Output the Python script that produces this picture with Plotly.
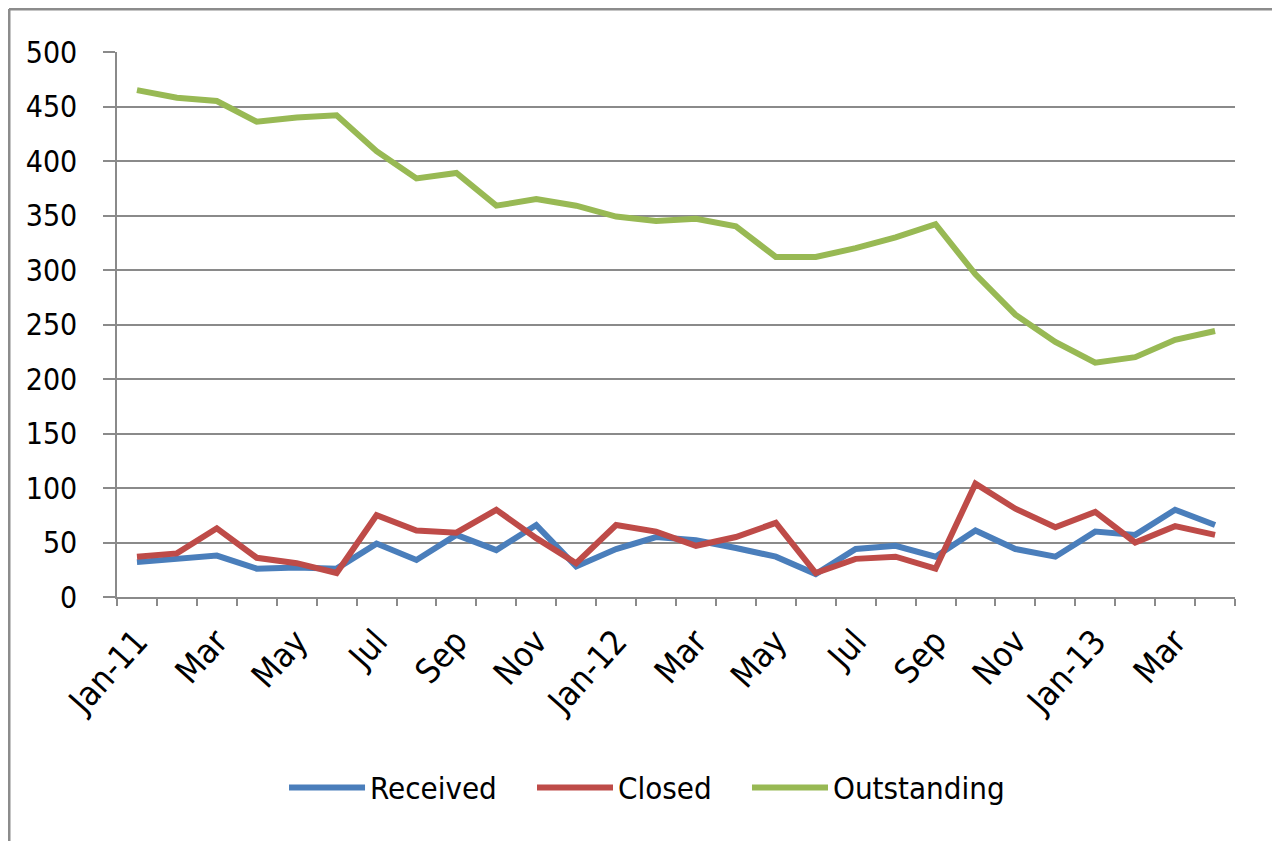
import plotly.graph_objects as go

months = ["Jan-11", "Feb-11", "Mar-11", "Apr-11", "May-11", "Jun-11", "Jul-11", "Aug-11",
          "Sep-11", "Oct-11", "Nov-11", "Dec-11", "Jan-12", "Feb-12", "Mar-12", "Apr-12",
          "May-12", "Jun-12", "Jul-12", "Aug-12", "Sep-12", "Oct-12", "Nov-12", "Dec-12",
          "Jan-13", "Feb-13", "Mar-13", "Apr-13"]
tick_text = ["Jan-11", "", "Mar", "", "May", "", "Jul", "", "Sep", "", "Nov", "",
             "Jan-12", "", "Mar", "", "May", "", "Jul", "", "Sep", "", "Nov", "",
             "Jan-13", "", "Mar", ""]

received = [32, 35, 38, 26, 27, 26, 49, 34, 57, 43, 66, 28, 44, 55, 52, 45,
            37, 21, 44, 47, 37, 61, 44, 37, 60, 57, 80, 66]
closed = [37, 40, 63, 36, 31, 22, 75, 61, 59, 80, 54, 31, 66, 60, 47, 55,
          68, 22, 35, 37, 26, 104, 81, 64, 78, 50, 65, 57]
outstanding = [465, 458, 455, 436, 440, 442, 409, 384, 389, 359, 365, 359, 349, 345, 347, 340,
               312, 312, 320, 330, 342, 296, 259, 234, 215, 220, 236, 244]

y_ticks = list(range(0, 501, 50))

FONT = "DejaVu Sans Condensed, Liberation Sans Narrow, sans-serif"
GRID = "#8a8a8a"

fig = go.Figure()
series = [("Received", received, "#4a7ebb", "legend"),
          ("Closed", closed, "#be4b48", "legend2"),
          ("Outstanding", outstanding, "#98b954", "legend3")]
for name, vals, color, lg in series:
    fig.add_trace(go.Scatter(x=months, y=vals, mode="lines", name=name, legend=lg,
                             line=dict(color=color, width=6)))

legend_common = dict(orientation="h", xanchor="left", y=-0.35, yanchor="middle",
                     font=dict(size=31), itemwidth=76, bgcolor="rgba(0,0,0,0)")

fig.update_layout(
    width=1272, height=833,
    margin=dict(l=109, r=45, t=44, b=244),
    paper_bgcolor="white", plot_bgcolor="white",
    font=dict(family=FONT, size=30, color="#000000"),
    showlegend=True,
    legend=dict(x=0.1494, **legend_common),
    legend2=dict(x=0.3712, **legend_common),
    legend3=dict(x=0.5635, **legend_common),
    xaxis=dict(type="category", categoryorder="array", categoryarray=months,
               tickmode="array", tickvals=months, ticktext=tick_text,
               tickson="boundaries", ticks="outside", ticklen=7, tickwidth=1.5,
               tickcolor=GRID, showline=True, linecolor=GRID, linewidth=1.5,
               showgrid=False, tickangle=-48, ticklabelstandoff=9,
               tickfont=dict(size=34), range=[-0.5, 27.5], automargin=False),
    yaxis=dict(range=[0, 500], tickmode="array", tickvals=y_ticks,
               ticks="outside", ticklen=12, tickwidth=1.5, tickcolor=GRID,
               showline=True, linecolor=GRID, linewidth=1.5,
               showgrid=True, gridcolor=GRID, gridwidth=1.5,
               zeroline=False, ticklabelstandoff=20, tickfont=dict(size=30),
               automargin=False),
    shapes=[
        dict(type="line", xref="paper", yref="paper", x0=-0.0966, x1=-0.0966, y0=1.079, y1=-0.46,
             line=dict(color="#8c8c8c", width=3)),
        dict(type="line", xref="paper", yref="paper", x0=-0.0966, x1=1.0385, y0=1.079, y1=1.079,
             line=dict(color="#8c8c8c", width=3)),
        dict(type="line", xref="paper", yref="paper", x0=1.0385, x1=1.0385, y0=1.079, y1=-0.46,
             line=dict(color="#d0d0d0", width=1.5)),
    ],
)

fig.write_html("out.html")
